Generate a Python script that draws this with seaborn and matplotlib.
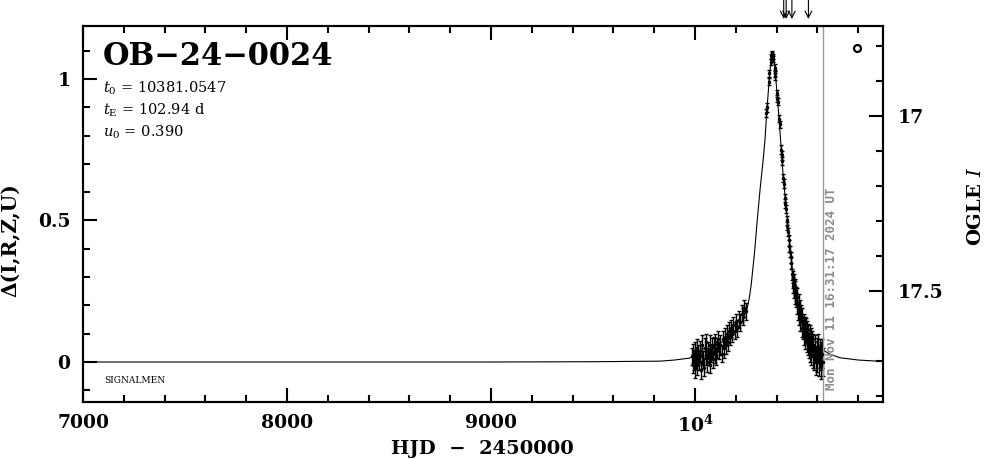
import numpy as np
import pandas as pd
import matplotlib
matplotlib.use('Agg')
import matplotlib.pyplot as plt
import seaborn as sns
from matplotlib.ticker import MultipleLocator, FixedLocator, FixedFormatter
from matplotlib.transforms import blended_transform_factory

# Event info
event_name = 'OB-24-0024'
param_lines = [r'$t_0$ = 10381.0547', r'$t_{\rm E}$ = 102.94 d', r'$u_0$ = 0.390']
now_t = 10628.0
now_label = 'Mon Nov 11 16:31:17 2024 UT'
arrow_t = [10435, 10447, 10475, 10556]
mark_t = [10792]
mark_d = [1.11]

# Model curve (HJD-2450000, delta)
model_t = [7000, 8000, 9000, 9500, 9828, 9900, 9975, 10057, 10120, 10180,
           10229, 10256, 10266, 10275, 10291, 10305, 10319, 10335, 10343, 10351,
           10364, 10372, 10380, 10388, 10392, 10400, 10413, 10425, 10433, 10441,
           10457, 10471, 10482, 10490, 10500, 10515, 10530, 10545, 10564, 10590,
           10629, 10660, 10711, 10800, 10920]
model_d = [0.0, 0.0, 0.0, 0.001, 0.003, 0.007, 0.014, 0.040, 0.065, 0.092,
           0.140, 0.190, 0.225, 0.270, 0.380, 0.500, 0.610, 0.720, 0.785, 0.875,
           1.000, 1.060, 1.085, 1.065, 1.030, 0.970, 0.850, 0.730, 0.650, 0.590,
           0.470, 0.370, 0.300, 0.260, 0.220, 0.180, 0.150, 0.130, 0.110, 0.075,
           0.042, 0.028, 0.015, 0.007, 0.002]

# Baseline observations
base_t = [9986, 9989, 9992, 9995, 9998, 10001, 10004, 10008, 10012, 10016,
          10020, 10024, 10028, 10032, 10036, 10040, 10044, 10048, 10052, 10056,
          10060, 10064, 10068, 10072, 10076, 10080, 10084, 10088, 10092, 10096,
          10100, 10105, 10110, 10115, 10120, 10125, 10130, 10135, 10140, 10145,
          10150, 10155, 10160, 10165, 10170, 10176, 10182, 10188, 10194, 10200,
          10207, 10214, 10221, 10228, 10235, 10242, 10248]
base_d = [0.02, -0.01, 0.03, 0.00, 0.04, -0.02, 0.01, 0.05, -0.01, 0.03,
          0.00, 0.04, -0.03, 0.02, 0.06, 0.01, -0.02, 0.05, 0.02, 0.07,
          0.00, 0.04, 0.02, 0.06, -0.01, 0.03, 0.05, 0.01, 0.06, 0.03,
          0.07, 0.02, 0.05, 0.08, 0.04, 0.06, 0.03, 0.08, 0.05, 0.09,
          0.06, 0.10, 0.07, 0.11, 0.09, 0.12, 0.10, 0.13, 0.11, 0.14,
          0.12, 0.15, 0.14, 0.17, 0.16, 0.19, 0.18]
base_e = [0.03, 0.03, 0.035, 0.03, 0.03, 0.035, 0.03, 0.03, 0.035, 0.03,
          0.03, 0.035, 0.03, 0.03, 0.035, 0.03, 0.03, 0.035, 0.03, 0.03,
          0.035, 0.03, 0.03, 0.035, 0.03, 0.03, 0.035, 0.03, 0.03, 0.035,
          0.03, 0.03, 0.035, 0.03, 0.03, 0.035, 0.03, 0.03, 0.035, 0.03,
          0.03, 0.03, 0.03, 0.03, 0.03, 0.03, 0.03, 0.03, 0.03, 0.03,
          0.03, 0.03, 0.03, 0.03, 0.03, 0.03, 0.03]

# Peak observations
peak_t = [10349, 10352, 10362, 10365, 10372, 10375, 10377, 10379, 10381, 10384,
          10390, 10392, 10394, 10402, 10404, 10406, 10413, 10415, 10423, 10425,
          10427, 10433, 10435, 10440, 10442, 10444, 10450, 10453, 10456, 10460,
          10463, 10466, 10469, 10472]
peak_d = [0.88, 0.90, 0.99, 1.02, 1.06, 1.08, 1.09, 1.085, 1.08, 1.07,
          1.04, 1.02, 1.01, 0.95, 0.93, 0.92, 0.86, 0.84, 0.75, 0.73,
          0.71, 0.65, 0.63, 0.58, 0.56, 0.54, 0.50, 0.48, 0.46, 0.43,
          0.41, 0.39, 0.37, 0.35]
peak_e = [0.015, 0.015, 0.012, 0.012, 0.01, 0.01, 0.01, 0.01, 0.01, 0.01,
          0.012, 0.012, 0.012, 0.012, 0.012, 0.012, 0.012, 0.012, 0.015, 0.015,
          0.015, 0.015, 0.015, 0.015, 0.015, 0.015, 0.015, 0.015, 0.015, 0.02,
          0.02, 0.02, 0.02, 0.02]

# Decline observations
tail_t = [10476, 10478, 10480, 10482, 10484, 10486, 10488, 10490, 10492, 10494,
          10496, 10499, 10502, 10505, 10508, 10511, 10514, 10517, 10520, 10523,
          10526, 10529, 10532, 10535, 10538, 10541, 10544, 10547, 10550, 10553,
          10556, 10559, 10562, 10565, 10568, 10571, 10574, 10577, 10580, 10584,
          10588, 10592, 10596, 10600, 10604, 10608, 10612, 10616, 10620, 10624,
          10627]
tail_d = [0.31, 0.28, 0.30, 0.27, 0.29, 0.25, 0.27, 0.23, 0.26, 0.22,
          0.24, 0.20, 0.23, 0.18, 0.21, 0.16, 0.19, 0.14, 0.17, 0.12,
          0.16, 0.11, 0.14, 0.09, 0.13, 0.08, 0.12, 0.07, 0.11, 0.06,
          0.10, 0.05, 0.09, 0.04, 0.08, 0.03, 0.07, 0.02, 0.06, 0.01,
          0.05, 0.00, 0.04, 0.01, 0.05, 0.00, 0.03, -0.01, 0.02, 0.03,
          0.00]
tail_e = [0.02, 0.02, 0.02, 0.025, 0.02, 0.025, 0.025, 0.025, 0.025, 0.025,
          0.025, 0.03, 0.03, 0.03, 0.03, 0.03, 0.03, 0.03, 0.03, 0.03,
          0.03, 0.03, 0.03, 0.03, 0.03, 0.035, 0.035, 0.035, 0.035, 0.035,
          0.035, 0.035, 0.04, 0.04, 0.04, 0.04, 0.04, 0.04, 0.04, 0.04,
          0.045, 0.045, 0.045, 0.045, 0.05, 0.05, 0.05, 0.05, 0.05, 0.05,
          0.05]

xtick_vals = [7000, 8000, 9000, 10000]
xtick_labels = ['7000', '8000', '9000', r'$\mathbf{10^4}$']
ytick_vals = [0, 0.5, 1]
ytick_labels = ['0', '0.5', '1']
mag_vals = [17, 17.5]
mag_labels = ['17', '17.5']

obs = pd.DataFrame({'t': base_t + peak_t + tail_t,
                    'd': base_d + peak_d + tail_d,
                    'e': base_e + peak_e + tail_e})

sns.set_theme(style='ticks')
plt.rcParams['font.family'] = ['DejaVu Serif']
plt.rcParams['mathtext.fontset'] = 'dejavuserif'
plt.rcParams['text.color'] = 'black'
plt.rcParams['axes.labelcolor'] = 'black'
plt.rcParams['xtick.color'] = 'black'
plt.rcParams['ytick.color'] = 'black'
plt.rcParams['axes.edgecolor'] = 'black'

fig = plt.figure(figsize=(9.86, 4.59), dpi=100)
ax = fig.add_axes([0.0842, 0.1242, 0.8110, 0.8192])

# model and data
sns.lineplot(x=model_t, y=model_d, ax=ax, color='black', linewidth=0.8)
ax.errorbar(obs['t'], obs['d'], yerr=obs['e'], fmt='o', ms=1.5, color='black',
            ecolor='black', elinewidth=1.0, capsize=1.5, capthick=1.0)
ax.axvline(now_t, color='#999999', lw=1)
ax.plot(mark_t, mark_d, 'o', ms=5, mfc='white', mec='black', mew=1.6, clip_on=False)

ax.set_xlim(7000, 10920)
ax.set_ylim(-0.1413, 1.1873)

# ticks
ax.xaxis.set_major_locator(FixedLocator(xtick_vals))
ax.xaxis.set_major_formatter(FixedFormatter(xtick_labels))
ax.xaxis.set_minor_locator(MultipleLocator(200))
ax.yaxis.set_major_locator(FixedLocator(ytick_vals))
ax.yaxis.set_major_formatter(FixedFormatter(ytick_labels))
ax.yaxis.set_minor_locator(MultipleLocator(0.1))
ax.tick_params(axis='x', which='both', direction='in', top=True, bottom=True,
               width=1.5, color='black', labelcolor='black')
ax.tick_params(axis='y', which='both', direction='in', left=True, right=False,
               width=1.5, color='black', labelcolor='black')
ax.tick_params(which='major', length=10)
ax.tick_params(which='minor', length=5)
ax.tick_params(axis='x', pad=9, labelsize=13.5)
ax.tick_params(axis='y', pad=9, labelsize=13.5)
for lab in ax.get_xticklabels() + ax.get_yticklabels():
    lab.set_fontweight('bold')

# right magnitude axis
ax2 = ax.twinx()
ax2.set_ylim(17.818, 16.743)
ax2.yaxis.set_major_locator(FixedLocator(mag_vals))
ax2.yaxis.set_major_formatter(FixedFormatter(mag_labels))
ax2.yaxis.set_minor_locator(MultipleLocator(0.1))
ax2.tick_params(axis='y', which='both', direction='in', left=False, right=True,
                width=1.5, color='black', labelcolor='black')
ax2.tick_params(which='major', length=10, pad=11, labelsize=13.5)
ax2.tick_params(which='minor', length=5)
for lab in ax2.get_yticklabels():
    lab.set_fontweight('bold')

for a in (ax, ax2):
    for sp in a.spines.values():
        sp.set_visible(True)
        sp.set_color('black')
        sp.set_linewidth(1.5)

# labels
ax.set_xlabel('HJD  \u2212  2450000', fontsize=14, fontweight='bold', color='black')
ax.xaxis.set_label_coords(0.5, -0.10)
ax.set_ylabel('\u0394(I,R,Z,U)', fontsize=14.5, fontweight='bold', color='black')
ax.yaxis.set_label_coords(-0.078, 0.43)
ax2.set_ylabel(r'OGLE $I$', fontsize=14, fontweight='bold', rotation=90, color='black')
ax2.yaxis.set_label_coords(1.105, 0.52)

# annotations
ax.text(0.025, 0.896, event_name.replace('-', '\u2212'), transform=ax.transAxes,
        fontsize=22, fontweight='bold', va='baseline', ha='left', color='black')
for i, line in enumerate(param_lines):
    ax.text(0.0246, 0.822 - 0.0585 * i, line, transform=ax.transAxes,
            fontsize=10.5, va='baseline', ha='left', color='black')
ax.text(0.026, 0.0497, 'SIGNALMEN', transform=ax.transAxes, fontsize=6.5,
        va='baseline', ha='left', color='black')

trans = blended_transform_factory(ax.transData, ax.transAxes)
ax.text(10669, 0.032, now_label, transform=trans, rotation=90, ha='center',
        va='bottom', family='DejaVu Sans Mono', fontweight='bold', fontsize=9,
        color='#8c8c8c')
for t in arrow_t:
    ax.annotate('', xy=(t, 1.0186), xytext=(t, 1.069), xycoords=trans,
                textcoords=trans, annotation_clip=False,
                arrowprops=dict(arrowstyle='->', color='black', lw=0.8,
                                shrinkA=0, shrinkB=0))

fig.savefig('out.png', dpi=100)
